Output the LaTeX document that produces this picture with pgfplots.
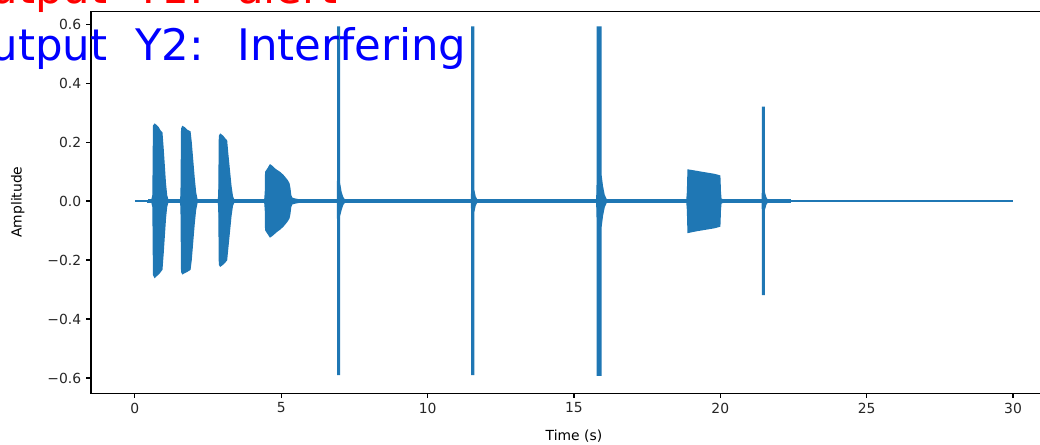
\documentclass[border=0pt]{standalone}
\usepackage{fontspec}
\setmainfont{DejaVu Sans}
\usepackage{pgfplots}
\pgfplotsset{compat=1.18}
\definecolor{c0}{HTML}{1F77B4}
\definecolor{axgray}{HTML}{262626}
\begin{document}
\begin{tikzpicture}
\begin{axis}[
  scale only axis,
  width=695.5pt, height=275pt,
  xmin=-1.5, xmax=31.5, ymin=-0.651, ymax=0.644,
  xtick={0,5,10,15,20,25,30},
  xticklabels={0,5,10,15,20,25,30},
  ytick={-0.6,-0.4,-0.2,0,0.2,0.4,0.6},
  yticklabels={−0.6,−0.4,−0.2,0.0,0.2,0.4,0.6},
  tick align=outside, tick pos=left,
  major tick length=3.5pt,
  every tick/.style={black, line width=0.8pt},
  axis line style={black, line width=0.8pt},
  tick label style={font=\fontsize{10}{12}\selectfont, text=axgray},
  /pgf/number format/assume math mode=true,
  xlabel={Time (s)}, ylabel={Amplitude},
  label style={font=\fontsize{10}{12}\selectfont},
  x label style={at={(axis description cs:0.5,-0.1127)}, anchor=center},
  y label style={at={(axis description cs:-0.0757,0.5)}, anchor=center},
  clip=false,
]
% baseline
\addplot[c0, line width=1.08pt] coordinates {(0,0) (30,0)};
% noise band
\addplot[c0, fill=c0, line width=1pt] coordinates {(0.45,0.003) (22.4,0.003) (22.4,-0.003) (0.45,-0.003) (0.45,0.003)};
% burst 1
\addplot[c0, fill=c0, line width=1pt] coordinates {
(0.58,0.003) (0.62,0.02) (0.64,0.255) (0.68,0.26) (0.74,0.255) (0.79,0.25) (0.86,0.238) (0.92,0.232) (0.96,0.18) (1.00,0.12) (1.04,0.06) (1.08,0.02) (1.12,0.005)
(1.12,-0.005) (1.08,-0.02) (1.04,-0.06) (1.00,-0.12) (0.96,-0.18) (0.92,-0.232) (0.86,-0.24) (0.79,-0.248) (0.74,-0.252) (0.68,-0.258) (0.64,-0.25) (0.62,-0.02) (0.58,-0.003) (0.58,0.003)};
% burst 2
\addplot[c0, fill=c0, line width=1pt] coordinates {
(1.56,0.003) (1.58,0.02) (1.60,0.245) (1.63,0.252) (1.70,0.248) (1.78,0.24) (1.88,0.235) (1.92,0.2) (1.97,0.14) (2.02,0.08) (2.07,0.03) (2.12,0.005)
(2.12,-0.005) (2.07,-0.03) (2.02,-0.08) (1.97,-0.14) (1.92,-0.2) (1.88,-0.232) (1.78,-0.238) (1.70,-0.242) (1.63,-0.246) (1.60,-0.24) (1.58,-0.02) (1.56,-0.003) (1.56,0.003)};
% burst 3
\addplot[c0, fill=c0, line width=1pt] coordinates {
(2.85,0.003) (2.87,0.02) (2.89,0.22) (2.92,0.226) (3.00,0.22) (3.08,0.21) (3.13,0.205) (3.17,0.16) (3.22,0.11) (3.28,0.05) (3.33,0.015) (3.38,0.004)
(3.38,-0.004) (3.33,-0.015) (3.28,-0.05) (3.22,-0.11) (3.17,-0.16) (3.13,-0.2) (3.08,-0.206) (3.00,-0.214) (2.92,-0.22) (2.89,-0.215) (2.87,-0.02) (2.85,-0.003) (2.85,0.003)};
% burst 4
\addplot[c0, fill=c0, line width=1pt] coordinates {
(4.44,0.004) (4.46,0.03) (4.47,0.098) (4.55,0.11) (4.62,0.122) (4.68,0.118) (4.76,0.11) (4.84,0.104) (4.95,0.097) (5.05,0.088) (5.12,0.08) (5.20,0.07) (5.26,0.06) (5.29,0.045) (5.32,0.02) (5.36,0.01) (5.45,0.007) (5.6,0.004)
(5.6,-0.004) (5.45,-0.007) (5.36,-0.01) (5.32,-0.02) (5.29,-0.045) (5.26,-0.058) (5.2,-0.068) (5.12,-0.078) (5.05,-0.086) (4.95,-0.095) (4.84,-0.103) (4.76,-0.11) (4.68,-0.117) (4.62,-0.121) (4.55,-0.11) (4.47,-0.098) (4.46,-0.03) (4.44,-0.004) (4.44,0.004)};
% spike 5
\addplot[c0, fill=c0, line width=1pt] coordinates {
(6.92,0) (6.93,0.08) (6.93,0.59) (6.99,0.59) (6.99,0.06) (7.04,0.03) (7.1,0.012) (7.16,0.004)
(7.16,-0.004) (7.1,-0.012) (7.04,-0.03) (6.99,-0.05) (6.99,-0.588) (6.93,-0.588) (6.93,-0.07) (6.92,0)};
% spike 6
\addplot[c0, fill=c0, line width=1pt] coordinates {
(11.50,0) (11.51,0.04) (11.51,0.59) (11.57,0.59) (11.57,0.04) (11.62,0.015) (11.68,0.004)
(11.68,-0.004) (11.62,-0.015) (11.57,-0.04) (11.57,-0.588) (11.51,-0.588) (11.51,-0.04) (11.50,0)};
% spike 7
\addplot[c0, fill=c0, line width=1pt] coordinates {
(15.78,0) (15.80,0.08) (15.80,0.59) (15.92,0.59) (15.92,0.09) (15.97,0.05) (16.03,0.02) (16.10,0.005)
(16.10,-0.005) (16.03,-0.02) (15.97,-0.05) (15.92,-0.09) (15.92,-0.59) (15.80,-0.59) (15.80,-0.08) (15.78,0)};
% burst 8
\addplot[c0, fill=c0, line width=1pt] coordinates {
(18.86,0.004) (18.88,0.03) (18.90,0.105) (19.2,0.1) (19.5,0.095) (19.8,0.09) (19.98,0.085) (20.0,0.03) (20.02,0.006) (20.1,0.004)
(20.1,-0.004) (20.02,-0.006) (20.0,-0.03) (19.98,-0.085) (19.8,-0.09) (19.5,-0.095) (19.2,-0.1) (18.90,-0.106) (18.88,-0.03) (18.86,-0.004) (18.86,0.004)};
% spike 9
\addplot[c0, fill=c0, line width=1pt] coordinates {
(21.43,0) (21.44,0.03) (21.44,0.318) (21.50,0.318) (21.50,0.03) (21.55,0.012) (21.60,0.004)
(21.60,-0.004) (21.55,-0.012) (21.50,-0.03) (21.50,-0.317) (21.44,-0.317) (21.44,-0.03) (21.43,0)};
\end{axis}
\node[anchor=base west, inner sep=0pt, text=blue, font=\fontsize{31.3}{38}\selectfont] at (-97.2pt,239.6pt) {Output\hspace{20.2pt}Y2:\hspace{23.8pt}Interfering};
\node[anchor=base west, inner sep=0pt, text=red, font=\fontsize{31.3}{38}\selectfont] at (-97.2pt,280.5pt) {Output\hspace{20.2pt}Y1:\hspace{23.8pt}alert};
\pgfresetboundingbox
\useasboundingbox (-65.5pt,-36.7pt) rectangle (683.3pt,283.0pt);
\end{tikzpicture}
\end{document}
